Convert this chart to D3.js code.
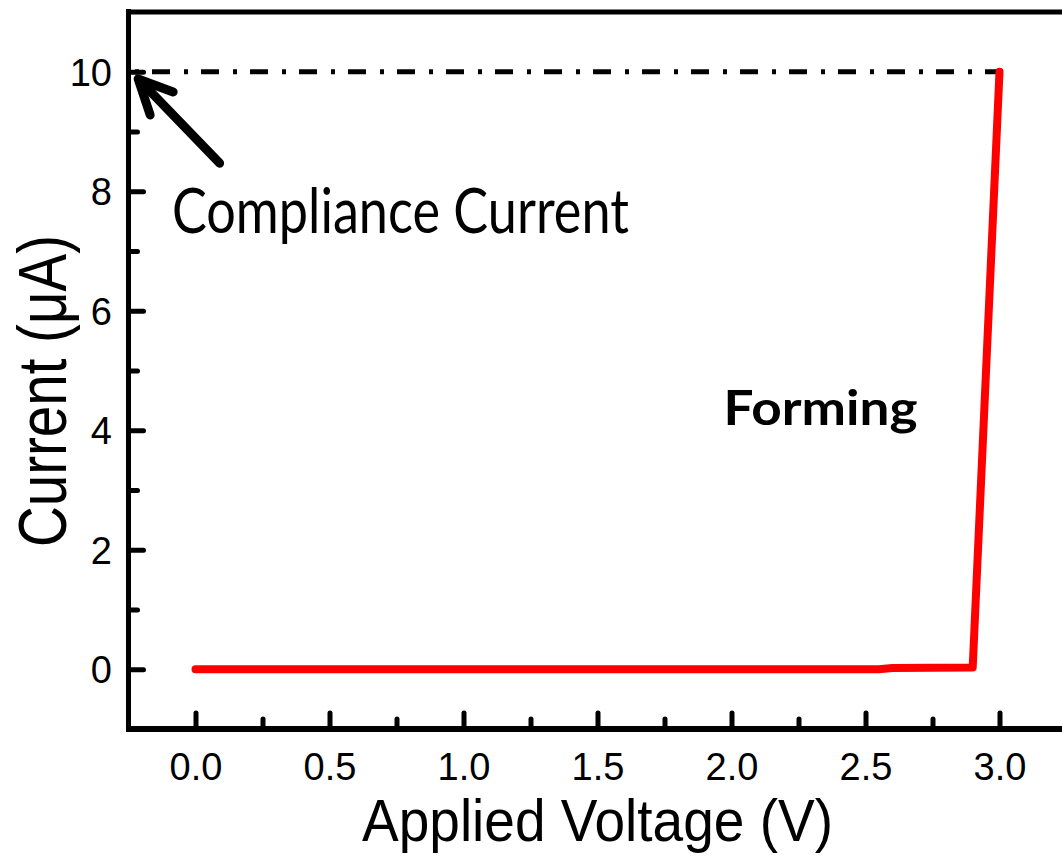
<!DOCTYPE html>
<html>
<head>
<meta charset="utf-8">
<script src="https://cdn.jsdelivr.net/npm/d3@7"></script>
<style>
  body { margin: 0; background: #fff; }
  svg { display: block; }
</style>
</head>
<body>
<div id="chart"></div>
<script>
// forming curve (voltage in V, current in uA)
const voltage = [0.0, 2.55, 2.6, 2.9, 3.0];
const current = [0.0, 0.0, 0.02, 0.03, 10.0];

const compliance = 10;          // compliance current level
const complianceEndV = 3.0;

const xMajor = [0.0, 0.5, 1.0, 1.5, 2.0, 2.5, 3.0];
const xMinor = [0.25, 0.75, 1.25, 1.75, 2.25, 2.75];
const yMajor = [0, 2, 4, 6, 8, 10];
const yMinor = [1, 3, 5, 7, 9];

// annotation positions in data units
const arrowTip = [-0.214, 9.88];
const arrowTail = [0.09, 8.47];
const labelCompliance = [-0.088, 7.3];
const labelForming = [1.97, 4.09];

const W = 1062, H = 856;
const plot = { left: 128.5, top: 12, bottom: 729 };

const svg = d3.select("#chart").append("svg")
    .attr("width", W)
    .attr("height", H);

// scales
const x = d3.scaleLinear().domain([-0.25, 3.25]).range([plot.left, plot.left + 3.5 * 268]);
const y = d3.scaleLinear().domain([-1, 11]).range([plot.bottom, plot.top]);

const tickFont = "'Liberation Sans', Arial, sans-serif";

// x axis ticks (pointing inward)
const gx = svg.append("g").attr("transform", `translate(0,${plot.bottom - 3})`);
gx.call(d3.axisBottom(x).tickValues(xMajor).tickSize(-13).tickPadding(0).tickFormat(d3.format(".1f")));
const gxm = svg.append("g").attr("transform", `translate(0,${plot.bottom - 3})`);
gxm.call(d3.axisBottom(x).tickValues(xMinor).tickSize(-7).tickFormat(""));

// y axis ticks
const gy = svg.append("g").attr("transform", `translate(${plot.left + 2},0)`);
gy.call(d3.axisLeft(y).tickValues(yMajor).tickSize(-13).tickPadding(0).tickFormat(d3.format("d")));
const gym = svg.append("g").attr("transform", `translate(${plot.left + 2},0)`);
gym.call(d3.axisLeft(y).tickValues(yMinor).tickSize(-7).tickFormat(""));

svg.selectAll(".domain").remove();
svg.selectAll(".tick line")
    .attr("stroke", "#000")
    .attr("stroke-width", 5)
    .attr("stroke-linecap", "round");

gx.selectAll(".tick text")
    .attr("y", 0)
    .attr("dy", 0)
    .attr("transform", `translate(0,${780 - plot.bottom + 3})`)
    .style("font-family", tickFont)
    .style("font-size", "38px")
    .attr("fill", "#000");

gy.selectAll(".tick text")
    .attr("x", -18.5)
    .attr("dy", "0.35em")
    .style("font-family", tickFont)
    .style("font-size", "38px")
    .attr("fill", "#000");

// frame: left, bottom, top
svg.append("line")
    .attr("x1", plot.left).attr("x2", plot.left)
    .attr("y1", plot.top - 3).attr("y2", plot.bottom + 3)
    .attr("stroke", "#000").attr("stroke-width", 5);
svg.append("line")
    .attr("x1", plot.left - 2.5).attr("x2", W + 10)
    .attr("y1", plot.bottom).attr("y2", plot.bottom)
    .attr("stroke", "#000").attr("stroke-width", 6);
svg.append("line")
    .attr("x1", plot.left - 2.5).attr("x2", W + 10)
    .attr("y1", plot.top).attr("y2", plot.top)
    .attr("stroke", "#000").attr("stroke-width", 5);

// compliance current dash-dot line
svg.append("line")
    .attr("x1", x(-0.25) + 1.5).attr("x2", x(complianceEndV) + 4)
    .attr("y1", y(compliance)).attr("y2", y(compliance))
    .attr("stroke", "#000")
    .attr("stroke-width", 5)
    .attr("stroke-dasharray", "18,14,4,13")
    .attr("stroke-dashoffset", 27);

// forming curve
const pts = voltage.map((v, i) => [v, current[i]]);
svg.append("path")
    .datum(pts)
    .attr("fill", "none")
    .attr("stroke", "#ff0000")
    .attr("stroke-width", 8)
    .attr("stroke-linejoin", "round")
    .attr("stroke-linecap", "round")
    .attr("d", d3.line().x(d => x(d[0])).y(d => y(d[1])));

// arrow pointing at compliance level
const tx = x(arrowTip[0]), ty = y(arrowTip[1]);
const sx = x(arrowTail[0]), sy = y(arrowTail[1]);
svg.append("line")
    .attr("x1", sx).attr("y1", sy)
    .attr("x2", tx + 3).attr("y2", ty + 3)
    .attr("stroke", "#000").attr("stroke-width", 9)
    .attr("stroke-linecap", "round");
svg.append("path")
    .attr("d", `M${tx + 35},${ty + 13} L${tx},${ty} L${tx + 12},${ty + 36}`)
    .attr("fill", "none")
    .attr("stroke", "#000").attr("stroke-width", 9)
    .attr("stroke-linecap", "round")
    .attr("stroke-linejoin", "round");

// annotation text
svg.append("text")
    .attr("x", x(labelCompliance[0])).attr("y", y(labelCompliance[1]))
    .attr("textLength", 457).attr("lengthAdjust", "spacingAndGlyphs")
    .style("font-family", "Lato, 'Open Sans', sans-serif")
    .style("font-size", "61px")
    .attr("fill", "#000")
    .text("Compliance Current");

svg.append("text")
    .attr("x", x(labelForming[0])).attr("y", y(labelForming[1]))
    .attr("textLength", 194).attr("lengthAdjust", "spacingAndGlyphs")
    .style("font-family", "Lato, 'Open Sans', sans-serif")
    .style("font-weight", "bold")
    .style("font-size", "47px")
    .attr("fill", "#000")
    .text("Forming");

// axis titles
svg.append("text")
    .attr("x", 362).attr("y", 841)
    .attr("textLength", 471).attr("lengthAdjust", "spacingAndGlyphs")
    .style("font-family", tickFont)
    .style("font-size", "60px")
    .attr("fill", "#000")
    .text("Applied Voltage (V)");

svg.append("text")
    .attr("transform", "translate(66,547) rotate(-90)")
    .attr("textLength", 312).attr("lengthAdjust", "spacingAndGlyphs")
    .style("font-family", tickFont)
    .style("font-size", "68px")
    .attr("fill", "#000")
    .text("Current (μA)");
</script>
</body>
</html>
